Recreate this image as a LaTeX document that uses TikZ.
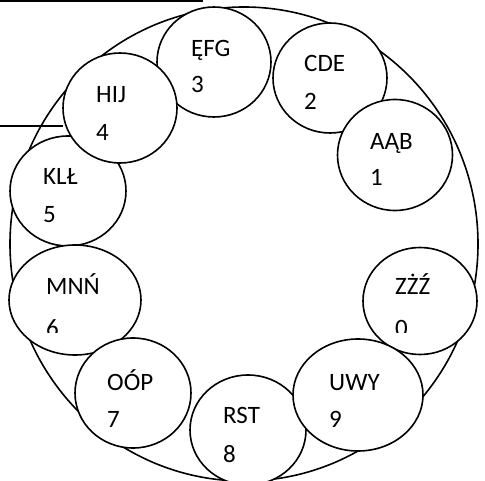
\documentclass[tikz,border=0pt]{standalone}
\usepackage{fontspec}
\setmainfont{Carlito}
\usetikzlibrary{shapes.geometric}
\tikzset{
  disc/.style={draw, ellipse, fill=white, line width=1.6pt, inner sep=0pt},
  lab/.style={anchor=base west, inner sep=0pt, font=\fontsize{25}{25}\selectfont},
  rule/.style={line width=1.4pt}
}
\begin{document}
\begin{tikzpicture}[x=1pt,y=-1pt]
\useasboundingbox (0,0) rectangle (485,481);
% big circle
\node[draw, ellipse, line width=1.6pt, minimum width=468pt, minimum height=474pt, inner sep=0pt] (big) at (244,244) {};
% lines
\coordinate (t0) at (0,1);
\coordinate (t1) at (203,1);
\coordinate (l0) at (0,126);
\coordinate (l1) at (63,126);
\draw[rule] (t0) -- (t1);
\draw[rule] (l0) -- (l1);
% small circles
\node[disc, minimum width=114pt, minimum height=110pt] (c3) at (214,62) {};
\node[disc, minimum width=114pt, minimum height=110pt] (c2) at (330,78) {};
\node[disc, minimum width=115pt, minimum height=111pt] (c1) at (395,155) {};
\node[disc, minimum width=116pt, minimum height=110pt] (c5) at (68,191) {};
\node[disc, minimum width=114pt, minimum height=110pt] (c4) at (120,108) {};
\node[disc, minimum width=132pt, minimum height=110pt] (c6) at (75,300) {};
\node[disc, minimum width=116pt, minimum height=110pt] (c7) at (133,393) {};
\node[disc, minimum width=114pt, minimum height=107pt] (c0) at (420,301) {};
\node[disc, minimum width=116pt, minimum height=110pt] (c8) at (248,430) {};
\node[disc, minimum width=130pt, minimum height=112pt] (c9) at (358,395) {};
% labels
\node[lab] (a3) at (191,57) {ĘFG};
\node[lab] (n3) at (191,93) {3};
\node[lab] (a2) at (304,72) {CDE};
\node[lab] (n2) at (304,110) {2};
\node[lab] (a1) at (370,150) {AĄB};
\node[lab] (n1) at (370,186) {1};
\node[lab] (a4) at (96,103) {HIJ};
\node[lab] (n4) at (96,141) {4};
\node[lab] (a5) at (43,185) {KLŁ};
\node[lab] (n5) at (43,223) {5};
\node[lab] (a6) at (46,295) {MNŃ};
\node[lab] (a0) at (395,295) {ZŻŹ};
\begin{scope}
\clip (0,0) rectangle (485,333);
\node[lab] (n6) at (46,337) {6};
\node[lab] (n0) at (395,337) {0};
\end{scope}
\node[lab] (a7) at (107,390) {OÓP};
\node[lab] (n7) at (107,427) {7};
\node[lab] (a8) at (223,423) {RST};
\node[lab] (n8) at (223,462) {8};
\node[lab] (a9) at (329,390) {UWY};
\node[lab] (n9) at (329,427) {9};
\end{tikzpicture}
\end{document}
